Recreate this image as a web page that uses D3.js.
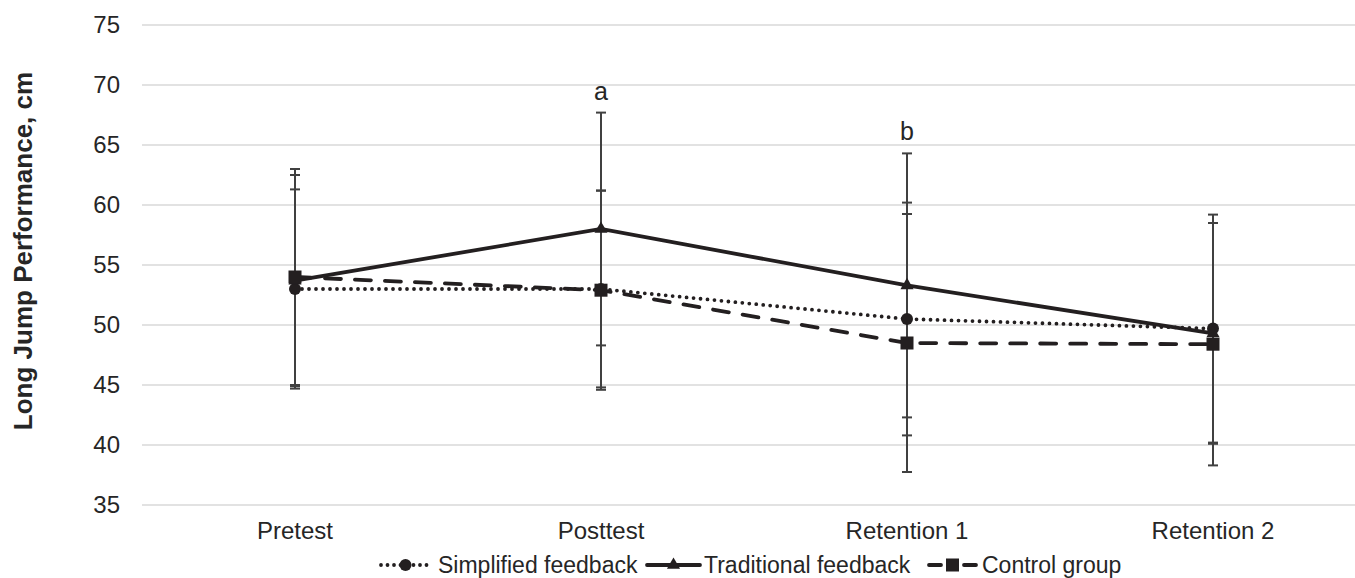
<!DOCTYPE html>
<html>
<head>
<meta charset="utf-8">
<script src="https://cdn.jsdelivr.net/npm/d3@7"></script>
<style>
  body { margin: 0; background: #fff; }
  svg { display: block; font-family: "Liberation Sans", Arial, sans-serif; }
</style>
</head>
<body>
<div id="chart"></div>
<script>
// DATA
const categories = ["Pretest", "Posttest", "Retention 1", "Retention 2"];
const yTicks = [35, 40, 45, 50, 55, 60, 65, 70, 75];

const simplifiedMean = [53.0, 53.0, 50.5, 49.7];
const simplifiedSD   = [8.3, 8.2, 9.7, 9.5];
const traditionalMean = [53.7, 58.0, 53.3, 49.3];
const traditionalSD   = [8.8, 9.7, 11.0, 9.2];
const controlMean = [54.0, 52.9, 48.5, 48.4];
const controlSD   = [9.0, 8.3, 10.75, 10.1];

const annotations = [
  { category: "Posttest", label: "a", value: 67.7 },
  { category: "Retention 1", label: "b", value: 64.3 }
];

const series = [
  { name: "Simplified feedback", mean: simplifiedMean, sd: simplifiedSD, dash: "0 7", marker: "circle" },
  { name: "Traditional feedback", mean: traditionalMean, sd: traditionalSD, dash: null, marker: "triangle" },
  { name: "Control group", mean: controlMean, sd: controlSD, dash: "16 14", marker: "square" }
];

// LAYOUT
const width = 1355, height = 578;
const margin = { left: 142, top: 25, bottom: 73 };
const plotWidth = 306 * categories.length;
const ink = "#231f20";
const textColor = "#262626";

const svg = d3.select("#chart").append("svg")
    .attr("width", width)
    .attr("height", height);

const x = d3.scaleBand()
    .domain(categories)
    .range([margin.left, margin.left + plotWidth]);

const y = d3.scaleLinear()
    .domain([35, 75])
    .range([height - margin.bottom, margin.top]);

const cx = (i) => x(categories[i]) + x.bandwidth() / 2;

// gridlines
svg.append("g")
  .selectAll("line")
  .data(yTicks)
  .join("line")
    .attr("x1", margin.left)
    .attr("x2", margin.left + plotWidth)
    .attr("y1", (d) => y(d))
    .attr("y2", (d) => y(d))
    .attr("stroke", "#d9d9d9")
    .attr("stroke-width", 1.5);

// y tick labels
svg.append("g")
    .attr("fill", textColor)
    .attr("font-size", 24)
    .attr("text-anchor", "end")
  .selectAll("text")
  .data(yTicks)
  .join("text")
    .attr("x", 120)
    .attr("y", (d) => y(d))
    .attr("dy", "0.35em")
    .text((d) => d);

// category labels
svg.append("g")
    .attr("fill", textColor)
    .attr("font-size", 24)
    .attr("text-anchor", "middle")
  .selectAll("text")
  .data(categories)
  .join("text")
    .attr("x", (d) => x(d) + x.bandwidth() / 2)
    .attr("y", 539)
    .text((d) => d);

// y axis title
svg.append("text")
    .attr("transform", "translate(32,251) rotate(-90)")
    .attr("text-anchor", "middle")
    .attr("font-size", 26)
    .attr("font-weight", "bold")
    .attr("fill", textColor)
    .text("Long Jump Performance, cm");

// error bars
const errG = svg.append("g")
    .attr("stroke", "#404040")
    .attr("stroke-width", 2);

series.forEach((s) => {
  s.mean.forEach((m, i) => {
    const hi = y(m + s.sd[i]), lo = y(m - s.sd[i]);
    errG.append("line").attr("x1", cx(i)).attr("x2", cx(i)).attr("y1", hi).attr("y2", lo);
    errG.append("line").attr("x1", cx(i) - 5).attr("x2", cx(i) + 5).attr("y1", hi).attr("y2", hi);
    errG.append("line").attr("x1", cx(i) - 5).attr("x2", cx(i) + 5).attr("y1", lo).attr("y2", lo);
  });
});

// series lines
const line = d3.line()
    .x((d, i) => cx(i))
    .y((d) => y(d));

function drawMarker(g, type, px, py) {
  if (type === "circle") {
    g.append("circle").attr("cx", px).attr("cy", py).attr("r", 6).attr("fill", ink);
  } else if (type === "triangle") {
    g.append("path")
        .attr("d", d3.symbol(d3.symbolTriangle, 75)())
        .attr("transform", `translate(${px},${py})`)
        .attr("fill", ink);
  } else {
    g.append("rect").attr("x", px - 6.5).attr("y", py - 6.5).attr("width", 13).attr("height", 13).attr("fill", ink);
  }
}

series.forEach((s) => {
  const g = svg.append("g");
  g.append("path")
      .datum(s.mean)
      .attr("d", line)
      .attr("fill", "none")
      .attr("stroke", ink)
      .attr("stroke-width", 3.8)
      .attr("stroke-linecap", "round")
      .attr("stroke-dasharray", s.dash);
  s.mean.forEach((m, i) => drawMarker(g, s.marker, cx(i), y(m)));
});

// significance letters
svg.append("g")
    .attr("fill", textColor)
    .attr("font-size", 25)
    .attr("text-anchor", "middle")
  .selectAll("text")
  .data(annotations)
  .join("text")
    .attr("x", (d) => x(d.category) + x.bandwidth() / 2)
    .attr("y", (d) => y(d.value) - 13)
    .text((d) => d.label);

// legend
const legendY = 565;
const legendItems = [
  { s: series[0], x0: 381, x1: 430, tx: 438, dash: "0 6.5" },
  { s: series[1], x0: 647, x1: 700, tx: 704, dash: null },
  { s: series[2], x0: 929, x1: 976, tx: 982, dash: "12 23" }
];
const legend = svg.append("g");
legendItems.forEach((d) => {
  legend.append("line")
      .attr("x1", d.x0).attr("x2", d.x1)
      .attr("y1", legendY).attr("y2", legendY)
      .attr("stroke", ink)
      .attr("stroke-width", 3.8)
      .attr("stroke-linecap", "round")
      .attr("stroke-dasharray", d.dash);
  drawMarker(legend, d.s.marker, (d.x0 + d.x1) / 2, legendY);
  legend.append("text")
      .attr("x", d.tx)
      .attr("y", legendY)
      .attr("dy", "0.35em")
      .attr("font-size", 23)
      .attr("fill", textColor)
      .text(d.s.name);
});
</script>
</body>
</html>
